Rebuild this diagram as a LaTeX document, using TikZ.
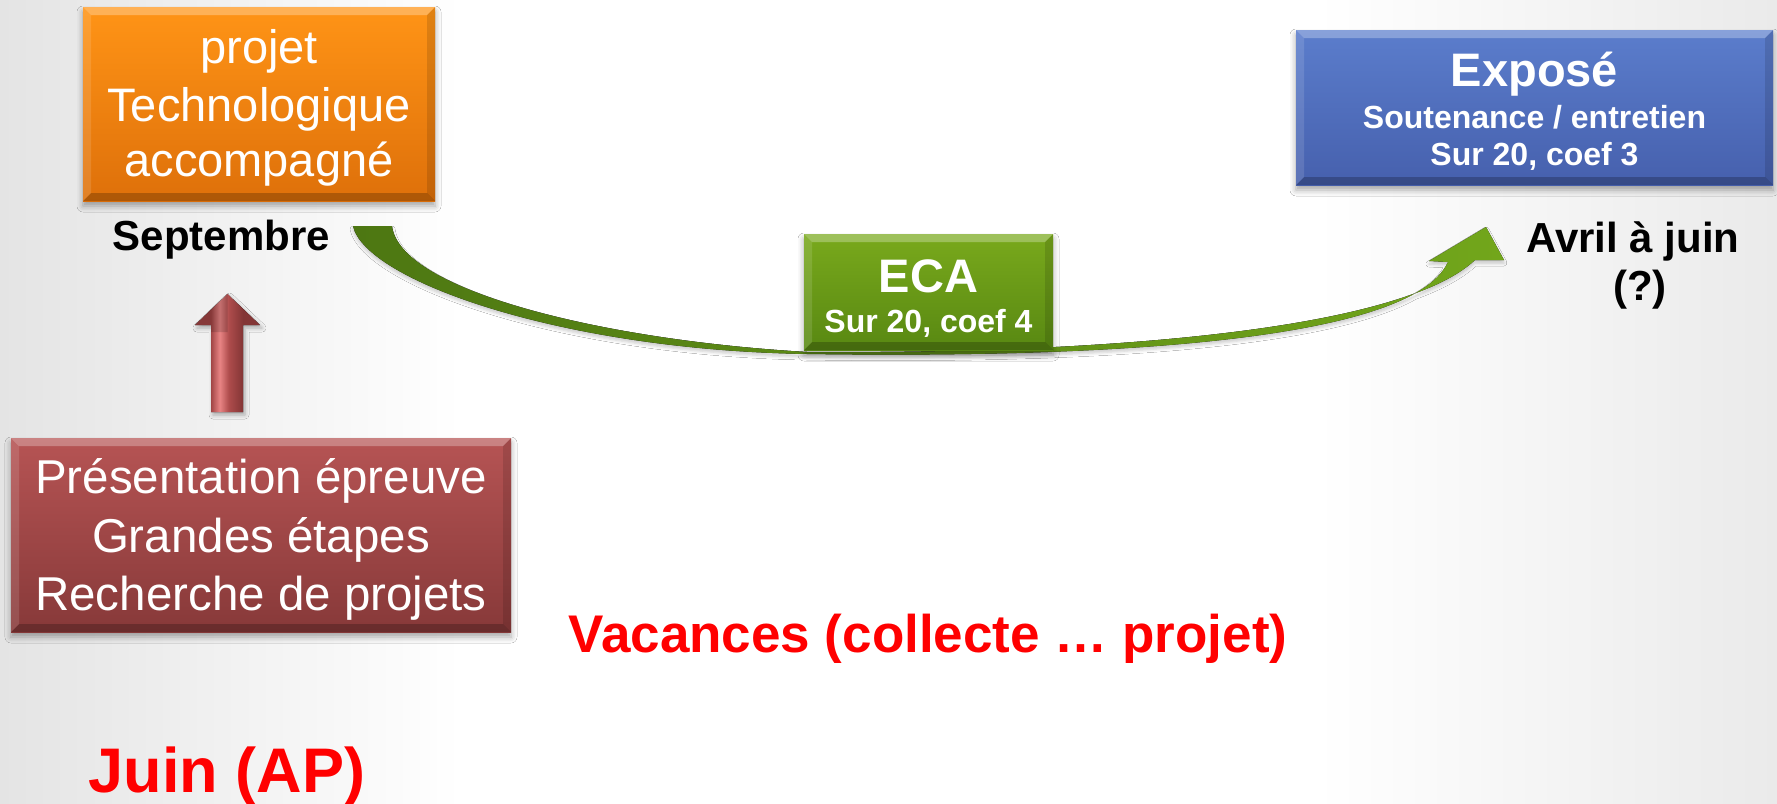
\documentclass[tikz,border=0pt]{standalone}
\usepackage{fontspec}
\setmainfont{Liberation Sans}
\usetikzlibrary{shadows.blur,calc}
\definecolor{bgL}{HTML}{E4E4E4}
\definecolor{bgR}{HTML}{EAEAEA}
\definecolor{orTop}{HTML}{FF9416}
\definecolor{orBot}{HTML}{DE700A}
\definecolor{blTop}{HTML}{5B7DCC}
\definecolor{blBot}{HTML}{4660AD}
\definecolor{rdTop}{HTML}{B65454}
\definecolor{rdBot}{HTML}{873939}
\definecolor{raL}{HTML}{9E4242}
\definecolor{raM}{HTML}{E88484}
\definecolor{raN}{HTML}{AE4C4C}
\definecolor{raR}{HTML}{833535}
\definecolor{gnTop}{HTML}{79A91C}
\definecolor{gnBot}{HTML}{588812}
\definecolor{arL}{HTML}{4D7712}
\definecolor{arR}{HTML}{72A61B}
\definecolor{vred}{HTML}{FF0000}
\pgfdeclarehorizontalshading{bgshade}{100bp}{color(0bp)=(bgL); color(25bp)=(bgL); color(38bp)=(white); color(62bp)=(white); color(75bp)=(bgR); color(100bp)=(bgR)}
\pgfdeclarehorizontalshading{redarrow}{100bp}{color(0bp)=(raL); color(37bp)=(raL); color(44bp)=(raM); color(51bp)=(raN); color(62bp)=(raR); color(100bp)=(raR)}
\begin{document}
\begin{tikzpicture}[x=1pt,y=-1pt,
  bevel/.style={path picture={
    \fill[white,opacity=.28] (path picture bounding box.north west) -- (path picture bounding box.north east)
      -- ([shift={(-8pt,-8pt)}]path picture bounding box.north east) -- ([shift={(8pt,-8pt)}]path picture bounding box.north west) -- cycle;
    \fill[black,opacity=.22] (path picture bounding box.south west) -- (path picture bounding box.south east)
      -- ([shift={(-8pt,8pt)}]path picture bounding box.south east) -- ([shift={(8pt,8pt)}]path picture bounding box.south west) -- cycle;
    \fill[white,opacity=.12] (path picture bounding box.north west) -- ([shift={(8pt,-8pt)}]path picture bounding box.north west)
      -- ([shift={(8pt,8pt)}]path picture bounding box.south west) -- (path picture bounding box.south west) -- cycle;
    \fill[black,opacity=.12] (path picture bounding box.north east) -- ([shift={(-8pt,-8pt)}]path picture bounding box.north east)
      -- ([shift={(-8pt,8pt)}]path picture bounding box.south east) -- (path picture bounding box.south east) -- cycle;
  }},
  box/.style={rectangle, inner sep=0pt, draw=none,
    blur shadow={shadow xshift=0pt, shadow yshift=-5pt, shadow blur radius=6pt, shadow opacity=35}, bevel},
  wtxt/.style={anchor=base, inner sep=0pt, text=white},
  btxt/.style={anchor=base, inner sep=0pt, text=black, font=\fontsize{42}{48}\selectfont\bfseries},
  rtxt/.style={anchor=base, inner sep=0pt, text=vred},
  big/.style={font=\fontsize{47}{57}\selectfont},
]
\useasboundingbox (0,0) rectangle (1777,803);
\shade[shading=bgshade] (0,0) rectangle (1777,803);

% green curved arrow
\coordinate (gA) at (353,226);
\coordinate (gB) at (392,226);
\coordinate (gTip) at (1486,227);
\fill[left color=arL, right color=arR,
      blur shadow={shadow xshift=0pt, shadow yshift=-3pt, shadow blur radius=3pt, shadow opacity=20}]
  (gA) .. controls (365,280) and (560,350) .. (807,354)
  .. controls (1080,358) and (1410,345) .. (1448,262)
  -- (1429,261) -- (gTip) -- (1504,260) -- (1475,260)
  .. controls (1395,335) and (1070,354) .. (807,352)
  .. controls (600,340) and (400,290) .. (gB) -- cycle;

% boxes
\node[box, top color=orTop, bottom color=orBot, minimum width=352pt, minimum height=194pt] (orange) at (259,104) {};
\node[box, top color=blTop, bottom color=blBot, minimum width=477pt, minimum height=155pt] (expose) at (1534.5,107.5) {};
\node[box, top color=gnTop, bottom color=gnBot, minimum width=249pt, minimum height=116pt] (eca) at (928.5,292) {};
\node[box, top color=rdTop, bottom color=rdBot, minimum width=500pt, minimum height=194pt] (redbox) at (261,535) {};

% red up arrow
\coordinate (raB) at (227,412);
\coordinate (raT) at (227.5,294);
\fill[shading=redarrow,
      blur shadow={shadow xshift=2pt, shadow yshift=-3pt, shadow blur radius=4pt, shadow opacity=30}]
  ($(raB)+(-16,0)$) -- ($(raB)+(-16,-87)$) -- ($(raB)+(-32,-87)$) -- (raT)
  -- ($(raB)+(33,-87)$) -- ($(raB)+(16,-87)$) -- ($(raB)+(16,0)$) -- cycle;
\fill[black,opacity=.15] ($(raB)+(-32,-87)$) -- (raT) -- ($(raB)+(0.5,-80)$) -- ($(raB)+(-16,-80)$) -- ($(raB)+(-16,-87)$) -- cycle;

% texts
\node[wtxt, big] (o1) at (259,63) {projet};
\node[wtxt, big] (o2) at (259,121) {Technologique};
\node[wtxt, big] (o3) at (259,176) {accompagné};

\node[wtxt, font=\fontsize{47}{57}\selectfont\bfseries] (e1) at (1534.5,86) {Exposé};
\node[wtxt, font=\fontsize{32}{38}\selectfont\bfseries] (e2) at (1534.5,128) {Soutenance / entretien};
\node[wtxt, font=\fontsize{32}{38}\selectfont\bfseries] (e3) at (1534.5,165) {Sur 20, coef 3};

\node[wtxt, font=\fontsize{47}{57}\selectfont\bfseries] (c1) at (928.5,292) {ECA};
\node[wtxt, font=\fontsize{32}{38}\selectfont\bfseries] (c2) at (928.5,332) {Sur 20, coef 4};

\node[wtxt, font=\fontsize{47.5}{58}\selectfont] (r1) at (261,493) {Présentation épreuve};
\node[wtxt, font=\fontsize{47.5}{58}\selectfont] (r2) at (261,552) {Grandes étapes};
\node[wtxt, font=\fontsize{47.5}{58}\selectfont] (r3) at (261,610) {Recherche de projets};

\node[btxt] (sept) at (221.5,250) {Septembre};
\node[btxt] (avril) at (1633,252) {Avril à juin};
\node[btxt] (q) at (1640,300) {(?)};

\node[rtxt, font=\fontsize{53}{60}\selectfont\bfseries] (vac) at (928,652) {Vacances (collecte … projet)};
\node[rtxt, font=\fontsize{63}{70}\selectfont\bfseries] (juin) at (227,792) {Juin (AP)};
\end{tikzpicture}
\end{document}
